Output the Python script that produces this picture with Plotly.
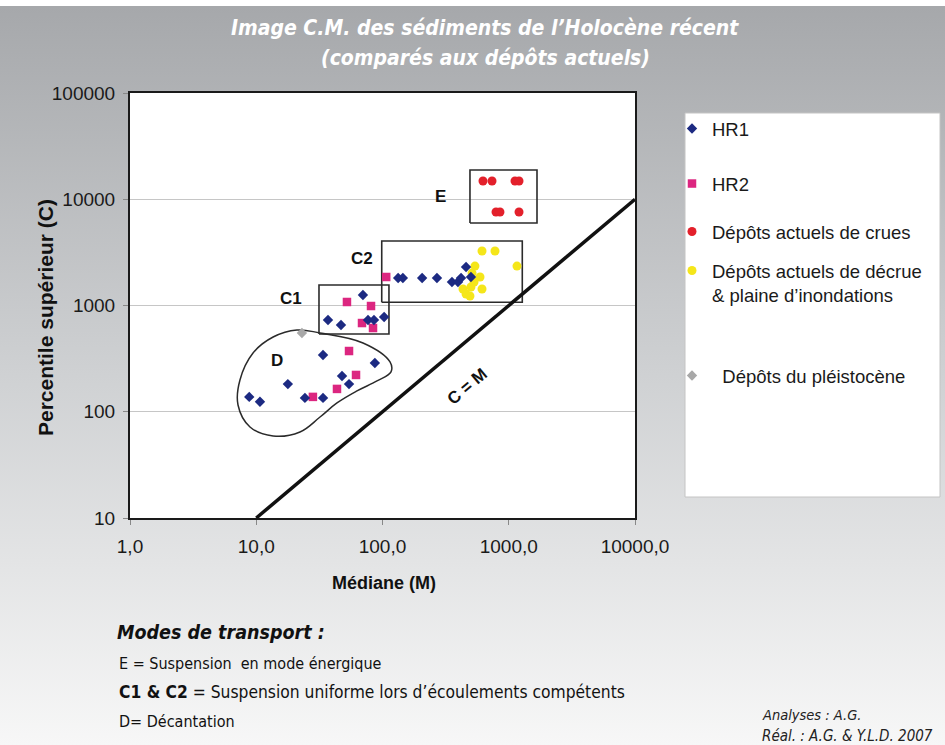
import base64
import plotly.graph_objects as go

# ---- data: médiane M (µm) and percentile supérieur C (µm) ----
hr1_m = [8.8, 10.7, 17.8, 24.3, 33.8, 33.8, 47.8, 54.3, 87, 37, 46.9, 70, 76.8, 85.6, 103,
         133, 145, 206, 270, 355, 396, 419, 459, 502]
hr1_c = [138, 124, 182, 135, 135, 342, 217, 182, 288, 730, 655, 1255, 730, 730, 780,
         1815, 1815, 1815, 1815, 1664, 1664, 1815, 2304, 1855]

hr2_m = [28.1, 43.6, 61.7, 54.3, 52.3, 81.1, 68.8, 84.1, 107]
hr2_c = [138, 164, 222, 373, 1079, 989, 684, 614, 1855]

crue_m = [625, 737, 1121, 1206, 793, 852, 1206]
crue_c = [14850, 14850, 14850, 14850, 7590, 7590, 7590]

decrue_m = [614, 778, 1162, 540, 512, 592, 614, 434, 459, 502, 493, 531]
decrue_c = [3260, 3260, 2350, 2350, 2020, 1855, 1430, 1430, 1283, 1494, 1229, 1664]

pleist_m = [23]
pleist_c = [551]

# C = M reference line
cm_line = [10, 10000]

# transport-mode zones (M range, C range)
zone_c1 = ([31.4, 112.5], [540, 1560])
zone_c2 = ([98.6, 1280], [1072, 4046])
zone_e = ([493, 1674], [5970, 18840])
# outline of zone D (M, C)
zone_d_m = [21.0, 32.0, 70.1, 114.7, 116.8, 90.4, 62.8, 43.6, 32.0, 22.2, 13.6, 8.92, 7.17, 7.43, 9.43, 13.6, 21.0]
zone_d_c = [588, 551, 444, 294, 237, 195, 157, 121, 89.2, 64.5, 59.1, 71.9, 115.8, 199, 357, 505, 588]

x_tickvals = [1, 10, 100, 1000, 10000]
x_ticktext = ["1,0", "10,0", "100,0", "1000,0", "10000,0"]
y_tickvals = [10, 100, 1000, 10000, 100000]
y_ticktext = ["10", "100", "1000", "10000", "100000"]

FONT = "Liberation Sans, Arial, sans-serif"
NARROW = "Liberation Sans Narrow, Arial Narrow, DejaVu Sans Condensed, Liberation Sans, sans-serif"

W, H = 945, 745
ML, MR, MT, MB = 130, 310, 93, 227
PW, PH = W - ML - MR, H - MT - MB


def px(x):
    return (x - ML) / PW


def py(y):
    return (H - MB - y) / PH


fig = go.Figure()


def box(zone):
    (m0, m1), (c0, c1) = zone
    return go.Scatter(x=[m0, m1, m1, m0, m0], y=[c0, c0, c1, c1, c0], mode="lines",
                      line=dict(color="#2b2b2b", width=1.6), showlegend=False, hoverinfo="skip")


for z in (zone_c1, zone_c2, zone_e):
    fig.add_trace(box(z))

fig.add_trace(go.Scatter(x=zone_d_m, y=zone_d_c, mode="lines",
                         line=dict(color="#2b2b2b", width=1.5, shape="spline", smoothing=1.1),
                         showlegend=False, hoverinfo="skip"))

fig.add_trace(go.Scatter(x=cm_line, y=cm_line, mode="lines",
                         line=dict(color="#111111", width=3.5), showlegend=False, hoverinfo="skip"))

fig.add_trace(go.Scatter(x=decrue_m, y=decrue_c, mode="markers", legend="legend4",
                         name="Dépôts actuels de décrue<br>& plaine d’inondations",
                         marker=dict(symbol="circle", size=9, color="#f5e61a")))
fig.add_trace(go.Scatter(x=crue_m, y=crue_c, mode="markers", legend="legend3",
                         name="Dépôts actuels de crues",
                         marker=dict(symbol="circle", size=9, color="#e3202b")))
fig.add_trace(go.Scatter(x=pleist_m, y=pleist_c, mode="markers", legend="legend5",
                         name="\u00a0\u00a0Dépôts du pléistocène",
                         marker=dict(symbol="diamond", size=8, color="#a8a8a8")))
fig.add_trace(go.Scatter(x=hr2_m, y=hr2_c, mode="markers", legend="legend2",
                         name="HR2",
                         marker=dict(symbol="square", size=8.5, color="#dc2680")))
fig.add_trace(go.Scatter(x=hr1_m, y=hr1_c, mode="markers", legend="legend",
                         name="HR1",
                         marker=dict(symbol="diamond", size=8, color="#1c2a82")))

# gradient backdrop for the whole page
svg = (
    "<svg xmlns='http://www.w3.org/2000/svg' width='945' height='739' viewBox='0 0 945 739' "
    "preserveAspectRatio='none'><defs><linearGradient id='g' x1='0' y1='0' x2='0' y2='1'>"
    "<stop offset='0' stop-color='#a6a8ab'/><stop offset='0.5' stop-color='#cfd1d3'/>"
    "<stop offset='1' stop-color='#f7f7f7'/></linearGradient></defs>"
    "<rect width='945' height='739' fill='url(#g)'/></svg>"
)
src = "data:image/svg+xml;base64," + base64.b64encode(svg.encode()).decode()
images = [dict(source=src, xref="paper", yref="paper", x=px(0), y=py(6),
               sizex=W / PW, sizey=(H - 6) / PH, xanchor="left", yanchor="top",
               sizing="stretch", layer="below")]

shapes = [
    # white plotting area over the backdrop
    dict(type="rect", xref="paper", yref="paper", x0=0, x1=1, y0=0, y1=1,
         fillcolor="white", line=dict(width=0), layer="below"),
    # legend panel
    dict(type="rect", xref="paper", yref="paper", x0=px(685), x1=px(940), y0=py(497), y1=py(113),
         fillcolor="white", line=dict(color="#c4c4c4", width=1), layer="below"),
]

ann = []


def text(x, y, s, size, color="#111111", bold=False, italic=False, family=FONT,
         xanchor="center", yanchor="middle", angle=0):
    if bold:
        s = "<b>" + s + "</b>"
    if italic:
        s = "<i>" + s + "</i>"
    ann.append(dict(x=px(x), y=py(y), xref="paper", yref="paper", text=s, showarrow=False,
                    font=dict(size=size, color=color, family=family),
                    xanchor=xanchor, yanchor=yanchor, textangle=angle))


# title
text(485, 28, "Image C.M. des sédiments de l’Holocène récent", 21, "white", True, True, NARROW)
text(485, 58, "(comparés aux dépôts actuels)", 21, "white", True, True, NARROW)

# axis titles
text(45, 318, "Percentile supérieur (C)", 21, "#111111", True, angle=-90)
text(384, 583, "Médiane (M)", 18, "#111111", True)

# zone labels
text(440, 196, "E", 17, bold=True)
text(362, 258, "C2", 17, bold=True)
text(291, 298, "C1", 17, bold=True)
text(277, 360, "D", 17, bold=True)
text(467, 386, "C = M", 17, bold=True, angle=-40)

# notes below the chart
text(115, 632, "Modes de transport :", 19.5, "#111111", True, True, NARROW, xanchor="left")
text(117, 663, "E = Suspension  en mode énergique", 16, "#111111", family=NARROW, xanchor="left")
text(117, 692, "<b>C1 & C2</b> = Suspension uniforme lors d’écoulements compétents", 17.3, "#111111",
     family=NARROW, xanchor="left")
text(117, 721, "D= Décantation", 16, "#111111", family=NARROW, xanchor="left")
text(760, 715, "Analyses : A.G.", 14.5, "#222222", italic=True, family=NARROW, xanchor="left")
text(760, 736, "Réal. : A.G. & Y.L.D. 2007", 15, "#222222", italic=True, family=NARROW, xanchor="left")


def leg(y, valign="middle"):
    return dict(x=px(672), y=py(y), xref="paper", yref="paper", xanchor="left", yanchor="middle",
                bgcolor="rgba(0,0,0,0)", borderwidth=0, valign=valign,
                font=dict(family=FONT, size=18.5, color="#1a1a1a"))


axis_common = dict(type="log", showline=True, linecolor="#1a1a1a", linewidth=2, mirror=True,
                   ticks="outside", ticklen=5, tickcolor="#888888",
                   tickfont=dict(family=FONT, size=19, color="#1a1a1a"), zeroline=False)

fig.update_layout(
    width=W, height=H,
    margin=dict(l=ML, r=MR, t=MT, b=MB),
    paper_bgcolor="white", plot_bgcolor="white",
    images=images, shapes=shapes, annotations=ann,
    xaxis=dict(range=[0, 4], tickvals=x_tickvals, ticktext=x_ticktext, showgrid=False,
               ticklabelstandoff=5, **axis_common),
    yaxis=dict(range=[1, 5], tickvals=y_tickvals, ticktext=y_ticktext, showgrid=True,
               gridcolor="#c6c6c6", gridwidth=1, ticklabelstandoff=4, **axis_common),
    legend=leg(129),
    legend2=leg(184),
    legend3=leg(232),
    legend4=leg(283, "top"),
    legend5=leg(376),
    showlegend=True,
)

fig.write_html("out.html")
